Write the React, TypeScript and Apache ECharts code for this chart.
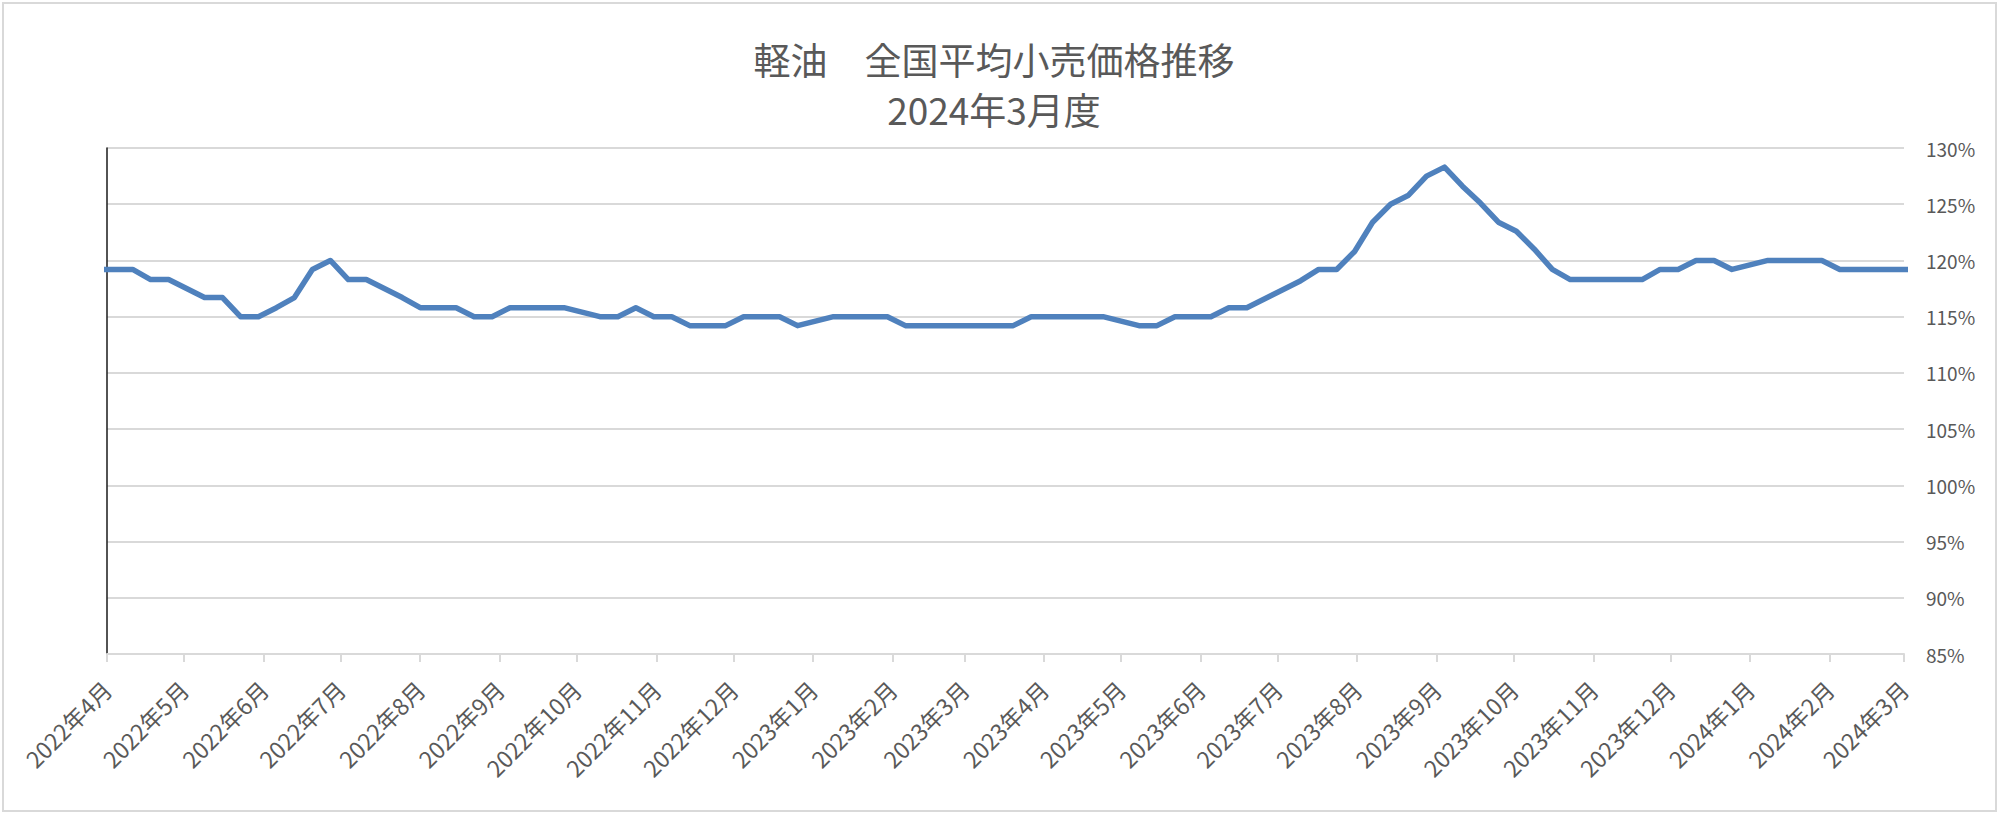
import { useEffect, useRef } from "react";
import * as echarts from "echarts";

// Title, two centred lines
const titleLines = ["軽油　全国平均小売価格推移", "2024年3月度"];

// Weekly survey dates (Mondays); first and last fall just outside the axis range
const weekDates = [
  "2022-03-28",
  "2022-04-04", "2022-04-11", "2022-04-18", "2022-04-25",
  "2022-05-02", "2022-05-09", "2022-05-16", "2022-05-23", "2022-05-30",
  "2022-06-06", "2022-06-13", "2022-06-20", "2022-06-27",
  "2022-07-04", "2022-07-11", "2022-07-18", "2022-07-25",
  "2022-08-01", "2022-08-08", "2022-08-15", "2022-08-22", "2022-08-29",
  "2022-09-05", "2022-09-12", "2022-09-19", "2022-09-26",
  "2022-10-03", "2022-10-10", "2022-10-17", "2022-10-24", "2022-10-31",
  "2022-11-07", "2022-11-14", "2022-11-21", "2022-11-28",
  "2022-12-05", "2022-12-12", "2022-12-19", "2022-12-26",
  "2023-01-02", "2023-01-09", "2023-01-16", "2023-01-23", "2023-01-30",
  "2023-02-06", "2023-02-13", "2023-02-20", "2023-02-27",
  "2023-03-06", "2023-03-13", "2023-03-20", "2023-03-27",
  "2023-04-03", "2023-04-10", "2023-04-17", "2023-04-24",
  "2023-05-01", "2023-05-08", "2023-05-15", "2023-05-22", "2023-05-29",
  "2023-06-05", "2023-06-12", "2023-06-19", "2023-06-26",
  "2023-07-03", "2023-07-10", "2023-07-17", "2023-07-24", "2023-07-31",
  "2023-08-07", "2023-08-14", "2023-08-21", "2023-08-28",
  "2023-09-04", "2023-09-11", "2023-09-18", "2023-09-25",
  "2023-10-02", "2023-10-09", "2023-10-16", "2023-10-23", "2023-10-30",
  "2023-11-06", "2023-11-13", "2023-11-20", "2023-11-27",
  "2023-12-04", "2023-12-11", "2023-12-18", "2023-12-25",
  "2024-01-01", "2024-01-08", "2024-01-15", "2024-01-22", "2024-01-29",
  "2024-02-05", "2024-02-12", "2024-02-19", "2024-02-26",
  "2024-03-04",
];

// Retail price relative to base, in %
const priceRatio = [
  119.2,
  119.2, 119.2, 118.3, 118.3,
  117.5, 116.7, 116.7, 115.0, 115.0,
  115.8, 116.7, 119.2, 120.0,
  118.3, 118.3, 117.5, 116.7,
  115.8, 115.8, 115.8, 115.0, 115.0,
  115.8, 115.8, 115.8, 115.8,
  115.4, 115.0, 115.0, 115.8, 115.0,
  115.0, 114.2, 114.2, 114.2,
  115.0, 115.0, 115.0, 114.2,
  114.6, 115.0, 115.0, 115.0, 115.0,
  114.2, 114.2, 114.2, 114.2,
  114.2, 114.2, 114.2, 115.0,
  115.0, 115.0, 115.0, 115.0,
  114.6, 114.2, 114.2, 115.0, 115.0,
  115.0, 115.8, 115.8, 116.6,
  117.4, 118.2, 119.2, 119.2, 120.8,
  123.4, 125.0, 125.8, 127.5,
  128.3, 126.6, 125.1, 123.4,
  122.6, 121.0, 119.2, 118.3, 118.3,
  118.3, 118.3, 118.3, 119.2,
  119.2, 120.0, 120.0, 119.2,
  119.6, 120.0, 120.0, 120.0, 120.0,
  119.2, 119.2, 119.2, 119.2,
  119.2,
];

const axisStart = "2022-04-01";
const axisEnd = "2024-03-01";
const yMin = 85;
const yMax = 130;
const yStep = 5;

const FONT = "'Noto Sans CJK JP', 'Noto Sans', sans-serif";
const DAY = 24 * 3600 * 1000;

export default function App() {
  const chartRef = useRef<HTMLDivElement>(null);

  useEffect(() => {
    if (!chartRef.current) return;
    const chart = echarts.init(chartRef.current, null, { renderer: "svg" });

    const option: echarts.EChartsOption = {
      animation: false,
      backgroundColor: "#ffffff",
      textStyle: { fontFamily: FONT },
      grid: { left: 107, right: 96, top: 148, bottom: 161 },
      xAxis: {
        type: "time",
        min: axisStart,
        max: axisEnd,
        splitNumber: 23,
        minInterval: 28 * DAY,
        maxInterval: 31 * DAY,
        axisLine: { show: true, lineStyle: { color: "#d9d9d9", width: 2 } },
        axisTick: { show: true, length: 8, lineStyle: { color: "#d9d9d9", width: 2 } },
        axisLabel: {
          rotate: 45,
          margin: 31,
          fontSize: 23,
          color: "#595959",
          fontFamily: FONT,
          formatter: (v: number) => {
            const d = new Date(v);
            return `${d.getFullYear()}年${d.getMonth() + 1}月`;
          },
        },
        splitLine: { show: false },
      },
      yAxis: [
        {
          type: "value",
          position: "right",
          min: yMin,
          max: yMax,
          interval: yStep,
          axisLine: { show: false },
          axisTick: { show: false },
          axisLabel: {
            formatter: "{value}%",
            margin: 22,
            fontSize: 19,
            color: "#595959",
            fontFamily: FONT,
          },
          splitLine: { show: true, lineStyle: { color: "#d9d9d9", width: 2 } },
        },
        {
          type: "value",
          position: "left",
          min: yMin,
          max: yMax,
          interval: yStep,
          axisLine: { show: true, lineStyle: { color: "#1a1a1a", width: 1.5 } },
          axisTick: { show: false },
          axisLabel: { show: false },
          splitLine: { show: false },
        },
      ],
      series: [
        {
          type: "line",
          yAxisIndex: 0,
          data: weekDates.map((d, i) => [d, priceRatio[i]]),
          showSymbol: false,
          symbol: "none",
          clip: true,
          lineStyle: { color: "#4f81bd", width: 5.5, cap: "round", join: "round" },
        },
      ],
      graphic: [
        {
          type: "rect",
          shape: { x: 3, y: 3, width: 1993, height: 808 },
          style: { fill: "none", stroke: "#d9d9d9", lineWidth: 2 },
          silent: true,
        },
        ...titleLines.map((t, i) => ({
          type: "text" as const,
          x: 994,
          y: 59 + i * 50,
          style: {
            text: t,
            fontSize: 37,
            fontFamily: FONT,
            fill: "#595959",
            textAlign: "center" as const,
            textVerticalAlign: "middle" as const,
          },
        })),
      ],
    };

    chart.setOption(option);
    return () => chart.dispose();
  }, []);

  return (
    <div
      ref={chartRef}
      style={{ position: "absolute", left: 0, top: 0, width: 2000, height: 815 }}
    />
  );
}
